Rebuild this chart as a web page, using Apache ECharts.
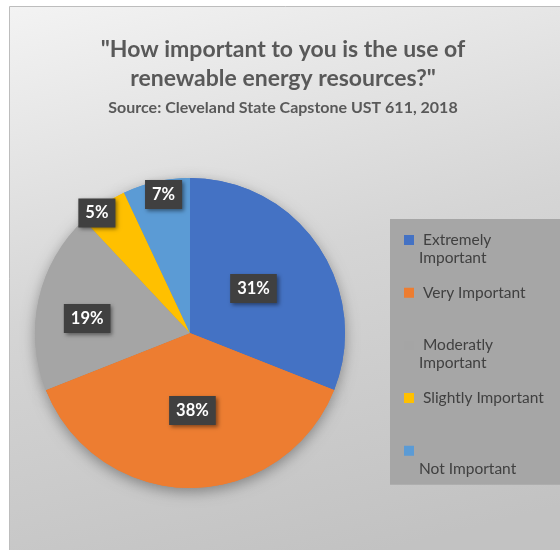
<!DOCTYPE html>
<html>
<head>
<meta charset="utf-8">
<script src="https://cdn.jsdelivr.net/npm/echarts@6/dist/echarts.min.js"></script>
<style>
  html, body { margin: 0; padding: 0; background: #ffffff; }
  #chart { width: 560px; height: 550px; }
</style>
</head>
<body>
<div id="chart"></div>
<script>
// Survey answers and their shares (percent)
const categories = ['Extremely Important', 'Very Important', 'Moderatly Important', 'Slightly Important', 'Not Important'];
const shares = [31, 38, 19, 5, 7];
const sliceColors = ['#4472c4', '#ed7d31', '#a5a5a5', '#ffc000', '#5b9bd5'];
// Legend text as it wraps inside the legend box
const legendText = [' Extremely\nImportant', ' Very Important\n ', ' Moderatly\nImportant', ' Slightly Important\n ', ' \nNot Important'];

// Layout
const CX = 190, CY = 333, R = 155;
const labelRadius = [0.5, 0.5, 0.67, 0.98, 0.91];
const labelAngleShift = [-0.8, -1.8, -4.6, -3.6, 1.8]; // degrees
const FONT = 'Lato, "Open Sans", sans-serif';

const total = shares.reduce((a, b) => a + b, 0);
function midFraction(i) {
  let before = 0;
  for (let k = 0; k < i; k++) before += shares[k];
  return (before + shares[i] / 2) / total;
}

const pieData = categories.map((name, i) => ({
  name: name,
  value: shares[i],
  itemStyle: { color: sliceColors[i] }
}));

const chart = echarts.init(document.getElementById('chart'), null, { renderer: 'canvas' });

chart.setOption({
  animation: false,
  graphic: [
    {
      type: 'rect',
      z: -10,
      shape: { x: 9.5, y: 6.5, width: 600, height: 600 },
      style: {
        fill: new echarts.graphic.LinearGradient(0, 0, 0.25, 1, [
          { offset: 0, color: '#f3f3f3' },
          { offset: 0.5, color: '#d5d5d5' },
          { offset: 1, color: '#c2c2c2' }
        ]),
        stroke: '#bdbdbd',
        lineWidth: 1
      }
    }
  ],
  title: {
    text: '"How important to you is the use of\nrenewable energy resources?"',
    subtext: 'Source: Cleveland State Capstone UST 611, 2018',
    left: 278,
    top: 30,
    textAlign: 'center',
    itemGap: 5,
    textStyle: {
      fontFamily: FONT,
      fontWeight: 'bold',
      fontSize: 23,
      lineHeight: 29,
      color: '#595959'
    },
    subtextStyle: {
      fontFamily: FONT,
      fontWeight: 'bold',
      fontSize: 16,
      lineHeight: 19,
      color: '#595959'
    }
  },
  legend: {
    orient: 'vertical',
    left: 390,
    top: 219,
    padding: [12, 60, 7, 14],
    backgroundColor: '#a6a6a6',
    itemWidth: 10,
    itemHeight: 36,
    itemGap: 16.7,
    icon: 'path://M0,0h0.01v0.01h-0.01z M0,4h10v10h-10z M0,35.99h0.01v0.01h-0.01z',
    data: categories,
    formatter: function (name) {
      return legendText[categories.indexOf(name)];
    },
    textStyle: {
      fontFamily: FONT,
      fontSize: 15.5,
      lineHeight: 18,
      color: '#404040'
    },
    selectedMode: false
  },
  series: [
    {
      // soft shadow under the pie
      type: 'pie',
      silent: true,
      z: 1,
      center: [CX, CY],
      radius: R,
      startAngle: 90,
      clockwise: true,
      legendHoverLink: false,
      label: { show: false },
      labelLine: { show: false },
      itemStyle: {
        shadowColor: 'rgba(0,0,0,0.35)',
        shadowBlur: 14,
        shadowOffsetY: 4
      },
      data: pieData
    },
    {
      type: 'pie',
      z: 2,
      center: [CX, CY],
      radius: R,
      startAngle: 90,
      clockwise: true,
      avoidLabelOverlap: false,
      itemStyle: { borderWidth: 0 },
      labelLine: { show: false },
      label: {
        show: true,
        position: 'inside',
        formatter: '{c}%',
        fontFamily: FONT,
        fontWeight: 'bold',
        fontSize: 16.5,
        lineHeight: 19,
        color: '#ffffff',
        backgroundColor: '#404040',
        padding: [5, 7, 5, 7],
        shadowColor: 'rgba(0,0,0,0.45)',
        shadowBlur: 4,
        shadowOffsetX: 2,
        shadowOffsetY: 2
      },
      labelLayout: function (p) {
        const i = p.dataIndex;
        const a = midFraction(i) * Math.PI * 2 + labelAngleShift[i] * Math.PI / 180;
        const r = R * labelRadius[i];
        return {
          x: CX + r * Math.sin(a),
          y: CY - r * Math.cos(a),
          align: 'center',
          verticalAlign: 'middle'
        };
      },
      emphasis: { scale: false },
      data: pieData
    }
  ]
});
</script>
</body>
</html>
